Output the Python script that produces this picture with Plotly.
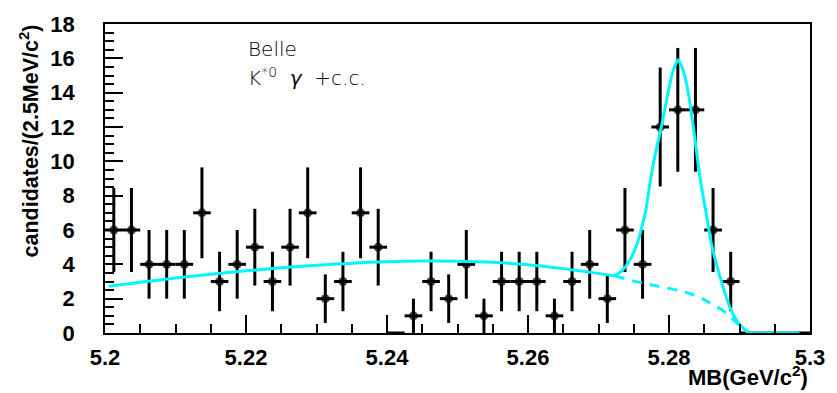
import numpy as np
import plotly.graph_objects as go

# Histogram data (bin centres, counts), bin width 2.5 MeV
bin_centers = [5.20125 + 0.0025 * i for i in range(40)]
counts = [6, 6, 4, 4, 4, 7, 3, 4, 5, 3,
          5, 7, 2, 3, 7, 5, 0, 1, 3, 2,
          4, 1, 3, 3, 3, 1, 3, 4, 2, 6,
          4, 12, 13, 13, 6, 3, 0, 0, 0, 0]
half_bin = 0.00125

# Fit curves
bkg_x = [5.2005, 5.205, 5.21, 5.215, 5.22, 5.225, 5.23, 5.235, 5.24, 5.245,
         5.25, 5.255, 5.26, 5.265, 5.2723]
bkg_y = [2.72, 2.95, 3.2, 3.42, 3.62, 3.8, 3.95, 4.07, 4.15, 4.19,
         4.18, 4.12, 3.98, 3.75, 3.33]
tot_x = [5.2723, 5.2731, 5.2739, 5.2747, 5.2755, 5.2761, 5.2767, 5.2774, 5.2782, 5.2790,
         5.2799, 5.2806, 5.2813, 5.2820, 5.2827, 5.2834, 5.2844, 5.2852, 5.2860, 5.2872,
         5.2887, 5.2897, 5.2906, 5.2914, 5.2925, 5.2985]
tot_y = [3.33, 3.55, 3.9, 4.45, 5.23, 6.1, 7.13, 9.0, 10.7, 12.17,
         14.07, 15.3, 15.92, 15.3, 14.07, 12.17, 9.04, 7.13, 5.23, 3.33,
         1.43, 0.66, 0.25, 0.03, 0.0, 0.0]
dash_x = [5.2723, 5.2758, 5.2790, 5.2823, 5.2845, 5.2860, 5.2875, 5.2884, 5.2893, 5.2902, 5.2912]
dash_y = [3.33, 2.95, 2.68, 2.38, 2.05, 1.71, 1.35, 1.05, 0.7, 0.35, 0.03]

x_ticks = [5.2, 5.22, 5.24, 5.26, 5.28, 5.3]
x_tick_text = ["5.2", "5.22", "5.24", "5.26", "5.28", "5.3"]
y_ticks = [0, 2, 4, 6, 8, 10, 12, 14, 16, 18]
y_tick_text = ["0", "2", "4", "6", "8", "10", "12", "14", "16", "18"]

cyan = "#00F5FF"
fig = go.Figure()

yerr = [float(np.sqrt(c)) for c in counts]
msize = [9 if c > 0 else 0 for c in counts]
fig.add_trace(go.Scatter(
    x=bin_centers, y=counts, mode="markers",
    marker=dict(color="black", size=msize, line=dict(width=0)),
    error_y=dict(type="data", array=yerr, visible=True, color="black", thickness=3, width=0),
    error_x=dict(type="constant", value=half_bin, visible=True, color="black", thickness=3, width=0),
    showlegend=False, cliponaxis=False,
))
fig.add_trace(go.Scatter(x=bkg_x, y=bkg_y, mode="lines", line=dict(color=cyan, width=3, shape="spline"),
                         showlegend=False))
fig.add_trace(go.Scatter(x=dash_x, y=dash_y, mode="lines",
                         line=dict(color=cyan, width=3, dash="10px,8px", shape="spline"), showlegend=False))
fig.add_trace(go.Scatter(x=tot_x, y=tot_y, mode="lines", line=dict(color=cyan, width=3, shape="spline", smoothing=0.6),
                         showlegend=False))

bold = dict(family="Liberation Sans, Arial", size=22, color="black")
fig.update_layout(
    width=837, height=393,
    margin=dict(l=105, r=17, t=18, b=60),
    paper_bgcolor="white", plot_bgcolor="white",
    xaxis=dict(range=[5.2, 5.3], tickvals=x_ticks, ticktext=["<b>%s</b>" % t for t in x_tick_text],
               showgrid=False, zeroline=False, showline=True, mirror=True, linecolor="black", linewidth=1.5,
               ticks="inside", ticklen=18, tickwidth=1.5, tickcolor="black",
               minor=dict(dtick=0.005, tick0=5.2, ticks="inside", ticklen=9, tickwidth=1.5, tickcolor="black", showgrid=False),
               tickfont=bold, ticklabelstandoff=4),
    yaxis=dict(range=[0, 18], tickvals=y_ticks, ticktext=["<b>%s</b>" % t for t in y_tick_text],
               showgrid=False, zeroline=False, showline=True, mirror=True, linecolor="black", linewidth=1.5,
               ticks="inside", ticklen=18, tickwidth=1.5, tickcolor="black",
               minor=dict(dtick=0.5, tick0=0, ticks="inside", ticklen=9, tickwidth=1.5, tickcolor="black", showgrid=False),
               tickfont=bold, ticklabelstandoff=24),
    annotations=[
        dict(text="<b>candidates/(2.5MeV/c<sup>2</sup>)</b>", textangle=-90, xref="paper", yref="paper",
             x=-0.108, y=1.006, xanchor="center", yanchor="top", showarrow=False,
             font=dict(family="Liberation Sans, Arial", size=21.5, color="black")),
        dict(text="<b>MB(GeV/c<sup>2</sup>)</b>", xref="paper", yref="paper", x=1.0, y=-0.19,
             xanchor="right", yanchor="bottom", showarrow=False,
             font=dict(family="Liberation Sans, Arial", size=22, color="black")),
        dict(text="Belle", xref="paper", yref="paper", x=0.2, y=0.92, xanchor="left", yanchor="middle",
             showarrow=False, font=dict(family="DejaVu Sans, Liberation Sans", size=20, color="black", weight=200)),
        dict(text="K<sup>*0</sup>  <i>γ</i>  +c.c.", xref="paper", yref="paper", x=0.2, y=0.83,
             xanchor="left", yanchor="middle",
             showarrow=False, font=dict(family="DejaVu Sans, Liberation Sans", size=20, color="black", weight=200)),
    ],
)
fig.write_html("out.html")
